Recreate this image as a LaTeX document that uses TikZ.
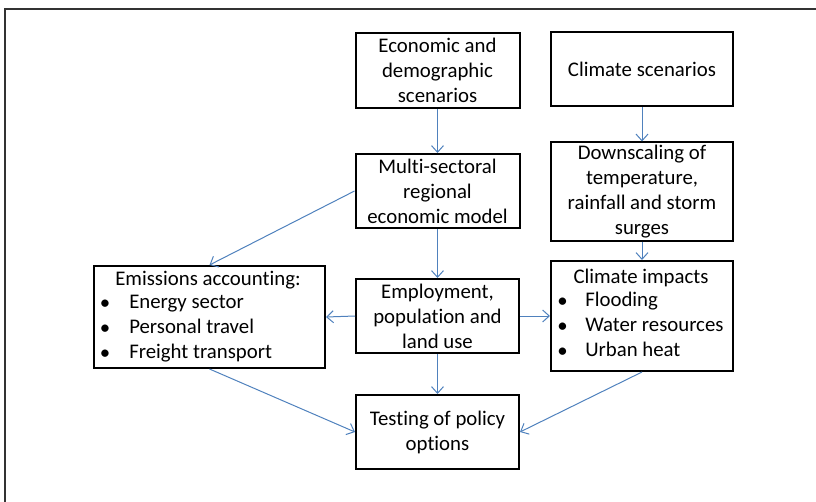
\documentclass[tikz,border=0pt]{standalone}
\usepackage{fontspec}
\setmainfont{Carlito}[Ligatures=NoCommon]
\usetikzlibrary{arrows.meta}
\definecolor{arrowblue}{HTML}{4F81BD}
\begin{document}
\begin{tikzpicture}[x=0.75pt,y=-0.75pt,
  font=\fontsize{15.6}{18.75}\selectfont,
  box/.style={draw=black,line width=1.5pt,inner sep=0pt,align=center,fill=white},
  lbl/.style={inner sep=0pt},
  conn/.style={draw=arrowblue,line width=0.75pt,-{Straight Barb[length=5pt,width=9pt,line width=0.75pt]}},
  frame/.style={draw=black!80,line width=1.5pt}]
\useasboundingbox (0,0) rectangle (816,502);
\draw[frame] (4.5,502) -- (4.5,9.5) -- (816,9.5);

\node[box,minimum width=123pt,minimum height=56.25pt] (econ) at (437.5,70.5) {Economic and\\demographic\\scenarios};
\node[box,minimum width=136.5pt,minimum height=55.5pt] (clim) at (642,69.5) {Climate scenarios};
\node[box,minimum width=123pt,minimum height=55.5pt] (multi) at (437.5,191) {Multi-sectoral\\regional\\economic model};
\node[box,minimum width=136.5pt,minimum height=73.5pt] (down) at (642,191.5) {Downscaling of\\temperature,\\rainfall and storm\\surges};
\node[box,minimum width=173.25pt,minimum height=76.5pt] (emis) at (209.5,317) {};
\node[box,minimum width=122.25pt,minimum height=55.5pt] (empl) at (437.5,316) {Employment,\\population and\\land use};
\node[box,minimum width=136.5pt,minimum height=82.5pt] (imp) at (642,316) {};
\node[box,minimum width=122.25pt,minimum height=55.5pt] (test) at (437.5,432) {Testing of policy\\options};

% emissions text
\node[lbl] (emish) at (208,280) {Emissions accounting:};
\node[lbl] (emb1) at (105,305) {•};
\node[lbl] (emb2) at (105,330) {•};
\node[lbl] (emb3) at (105,355) {•};
\node[lbl,anchor=mid west] (emt1) at (129,305) {Energy sector};
\node[lbl,anchor=mid west] (emt2) at (129,330) {Personal travel};
\node[lbl,anchor=mid west] (emt3) at (129,355) {Freight transport};

% impacts text
\node[lbl] (imph) at (641,278) {Climate impacts};
\node[lbl] (imb1) at (562.5,303) {•};
\node[lbl] (imb2) at (562.5,328) {•};
\node[lbl] (imb3) at (562.5,353) {•};
\node[lbl,anchor=mid west] (imt1) at (585,303) {Flooding};
\node[lbl,anchor=mid west] (imt2) at (585,328) {Water resources};
\node[lbl,anchor=mid west] (imt3) at (585,353) {Urban heat};

% connectors
\draw[conn] (econ) -- (multi);
\draw[conn] (clim) -- (down);
\draw[conn] (down) -- (imp);
\draw[conn] (multi.west) -- (emis.north);
\draw[conn] (multi) -- (empl);
\draw[conn] (empl.west) -- (emis.east);
\draw[conn] (empl.east) -- (imp.west);
\draw[conn] (empl) -- (test);
\draw[conn] (emis.south) -- (test.west);
\draw[conn] (imp.south) -- (test.east);
\end{tikzpicture}
\end{document}
